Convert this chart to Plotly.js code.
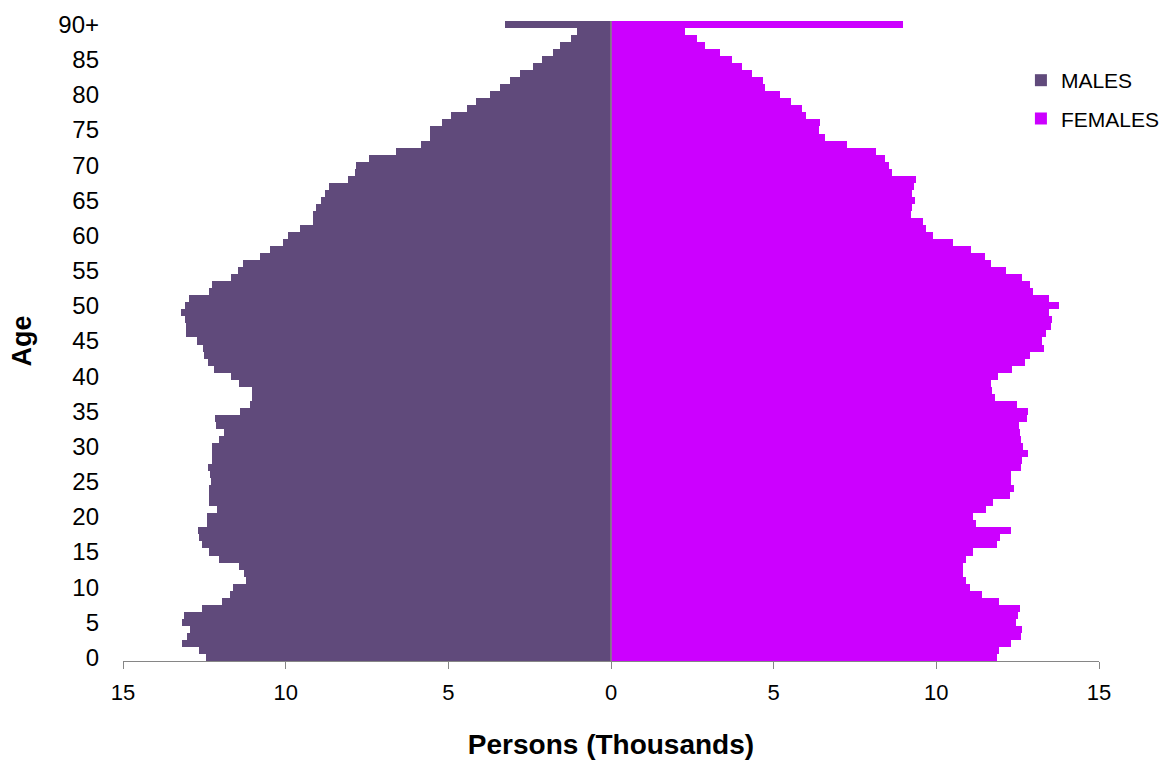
<!DOCTYPE html>
<html>
<head>
<meta charset="utf-8">
<script src="https://cdn.plot.ly/plotly-3.0.1.min.js"></script>
<style>html,body{margin:0;padding:0;background:#fff;}#chart{width:1163px;height:760px;}</style>
</head>
<body>
<div id="chart"></div>
<script>
// Ages 0..90 (90 = "90+")
const ages = Array.from({length: 91}, (_, i) => i);
const ageTickVals = [0,5,10,15,20,25,30,35,40,45,50,55,60,65,70,75,80,85,90];
const ageTickText = ['0','5','10','15','20','25','30','35','40','45','50','55','60','65','70','75','80','85','90+'];

// Persons (thousands), index = age
const males = [
  12.44,12.65,13.18,13.03,12.93,13.18,13.13,12.57,11.96,11.71,
  11.61,11.21,11.27,11.42,12.04,12.37,12.57,12.65,12.70,12.42,
  12.42,12.12,12.36,12.36,12.36,12.30,12.32,12.39,12.27,12.27,
  12.27,12.06,11.91,12.14,12.17,11.39,11.11,11.04,11.04,11.42,
  11.68,12.19,12.39,12.52,12.55,12.72,13.06,13.06,13.09,13.22,
  13.09,12.96,12.36,12.26,11.68,11.47,11.30,10.80,10.48,10.09,
  9.93,9.55,9.17,9.17,9.06,8.91,8.80,8.68,8.07,7.86,
  7.85,7.45,6.60,5.85,5.56,5.56,5.19,4.91,4.43,4.14,
  3.73,3.42,3.11,2.81,2.40,2.11,1.79,1.56,1.22,1.05,
  3.27
];
const females = [
  11.86,11.94,12.30,12.61,12.64,12.46,12.51,12.58,11.92,11.39,
  11.04,10.92,10.81,10.82,10.92,11.13,11.86,11.97,12.29,11.23,
  11.12,11.54,11.75,12.25,12.40,12.28,12.31,12.59,12.62,12.83,
  12.66,12.61,12.56,12.54,12.79,12.81,12.47,11.80,11.72,11.69,
  11.91,12.33,12.71,12.87,13.30,13.24,13.38,13.51,13.55,13.46,
  13.77,13.45,12.97,12.87,12.62,12.15,11.69,11.49,11.08,10.51,
  9.91,9.69,9.59,9.23,9.25,9.34,9.24,9.31,9.38,8.63,
  8.54,8.43,8.16,7.26,6.58,6.38,6.41,6.00,5.86,5.52,
  5.18,4.73,4.67,4.32,4.03,3.72,3.36,2.90,2.64,2.26,
  8.97
];
const xTickVals = [-15,-10,-5,0,5,10,15];
const xTickText = ['15','10','5','0','5','10','15'];

const font = 'Liberation Sans, Arial, sans-serif';

const traces = [
  {
    type: 'bar', orientation: 'h', name: 'MALES', legendgroup: 'm',
    y: ages, x: males.map(v => -v), width: 1,
    marker: {color: '#604A7B', line: {width: 0}},
    hoverinfo: 'skip'
  },
  {
    type: 'bar', orientation: 'h', name: 'FEMALES', legendgroup: 'f',
    y: ages, x: females, width: 1,
    marker: {color: '#CC00FF', line: {width: 0}},
    hoverinfo: 'skip'
  }
];

const layout = {
  width: 1163, height: 760,
  margin: {l: 123, r: 64, t: 21, b: 99, autoexpand: false},
  paper_bgcolor: '#fff', plot_bgcolor: '#fff',
  barmode: 'overlay', bargap: 0,
  font: {family: font, color: '#000', size: 22},
  showlegend: true,
  legend: {
    x: 0.92, y: 0.939, xanchor: 'left', yanchor: 'top',
    font: {family: font, size: 21, color: '#000'},
    traceorder: 'grouped', tracegroupgap: 8,
    itemwidth: 30, bgcolor: 'rgba(0,0,0,0)'
  },
  xaxis: {
    range: [-15, 15], tickvals: xTickVals, ticktext: xTickText,
    showgrid: false, zeroline: false,
    showline: true, linecolor: '#868686', linewidth: 1,
    ticks: 'outside', ticklen: 7, tickcolor: '#868686',
    ticklabelstandoff: 5,
    tickfont: {family: font, size: 22, color: '#000'},
    title: {text: '<b>Persons (Thousands)</b>', font: {family: font, size: 28, color: '#000'}, standoff: 30},
    automargin: false, fixedrange: true
  },
  yaxis: {
    range: [-0.5, 90.5], tickvals: ageTickVals, ticktext: ageTickText,
    showgrid: false, zeroline: false, showline: false, ticks: '',
    ticklabelstandoff: 23,
    tickfont: {family: font, size: 24, color: '#000'},
    title: {text: '<b>Age</b>', font: {family: font, size: 27, color: '#000'}, standoff: 18},
    automargin: false, fixedrange: true
  },
  shapes: [{
    type: 'line', xref: 'x', yref: 'paper', x0: 0, x1: 0, y0: 0, y1: 1,
    line: {color: '#868686', width: 1.5}, layer: 'above'
  }]
};

Plotly.newPlot('chart', traces, layout, {displayModeBar: false, staticPlot: true});
</script>
</body>
</html>
